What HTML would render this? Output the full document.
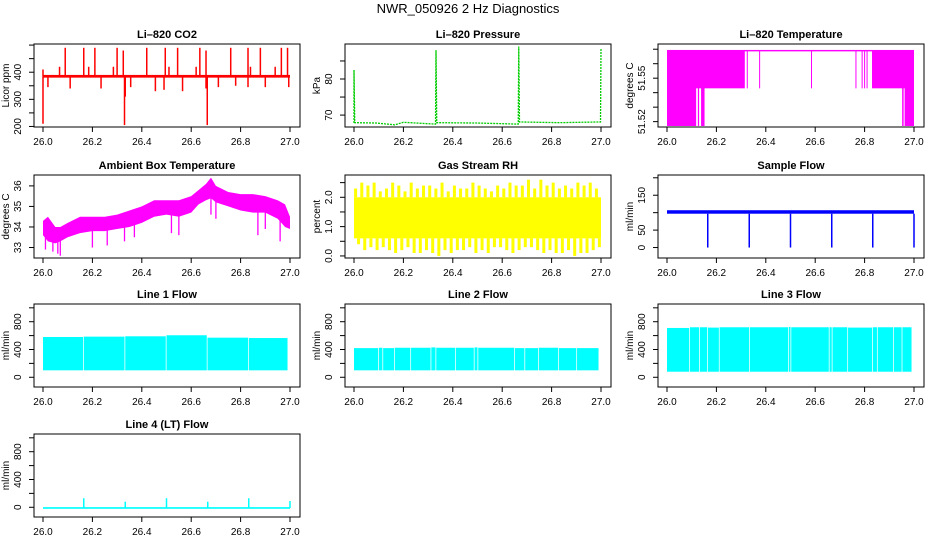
<!DOCTYPE html>
<html><head><meta charset="utf-8"><style>
html,body{margin:0;padding:0;background:#fff;}
svg{display:block;font-family:"Liberation Sans",sans-serif;}
.t{font-size:11px;font-weight:bold;text-anchor:middle;}
.tk{font-size:10px;}
</style></head><body>
<svg id="c" width="936" height="540" xmlns="http://www.w3.org/2000/svg">
<text x="468" y="13" style="font-size:13px;text-anchor:middle">NWR_050926  2 Hz Diagnostics</text>
</svg>
<script>
// ---- data ----
const xTicks=[26.0,26.2,26.4,26.6,26.8,27.0];
const xTickLabels=["26.0","26.2","26.4","26.6","26.8","27.0"];
// CO2
const co2Base=385;
const co2SpikeX=[26.0,26.0,26.02,26.067,26.09,26.11,26.165,26.185,26.21,26.235,26.285,26.30,26.325,26.33,26.333,26.355,26.42,26.455,26.49,26.495,26.51,26.545,26.565,26.62,26.635,26.66,26.66,26.665,26.71,26.76,26.78,26.83,26.84,26.83,26.88,26.9,26.94,26.965,26.99,26.995];
const co2SpikeY=[210,410,345,420,490,340,490,420,490,340,420,490,480,205,310,345,490,330,335,490,420,490,330,420,490,480,340,205,345,490,350,490,420,345,490,345,420,490,490,345];
// Pressure
const pX=[26.0,26.0,26.003,26.09,26.165,26.2,26.33,26.332,26.335,26.5,26.665,26.667,26.67,26.83,26.998,27.0];
const pY=[67.8,82.5,67.9,67.8,67.3,68.0,67.5,88.0,67.9,67.8,67.5,89.0,68.1,67.9,68.1,88.4];
// Li-820 temperature
const tHigh=51.569, tMid=51.543, tLow=51.517;
const tMidStart=[26.0,26.83], tMidEnd=[26.315,27.0];
const tLowStart=[26.0,26.125,26.138,26.952,26.962], tLowEnd=[26.118,26.13,26.152,26.958,27.0];
const tMidTicks=[26.325,26.375,26.585,26.765,26.79,26.8,26.81];
// Ambient box temperature
const ambX=[26.0,26.02,26.05,26.07,26.1,26.15,26.2,26.25,26.3,26.35,26.4,26.45,26.5,26.55,26.6,26.63,26.66,26.68,26.7,26.75,26.8,26.85,26.9,26.95,26.98,27.0];
const ambHi=[34.3,34.5,34.0,34.0,34.2,34.5,34.5,34.5,34.6,34.8,35.0,35.3,35.3,35.3,35.5,35.8,36.1,36.4,36.0,35.7,35.6,35.6,35.5,35.3,35.1,34.5];
const ambLo=[33.6,33.3,33.2,33.3,33.5,33.7,33.8,33.8,33.9,34.0,34.2,34.5,34.6,34.5,34.7,35.1,35.3,35.4,35.2,35.0,34.8,34.7,34.7,34.4,34.0,33.9];
const ambDipX=[26.01,26.04,26.06,26.07,26.2,26.26,26.33,26.37,26.52,26.55,26.68,26.7,26.87,26.96,26.9];
const ambDipY=[32.9,32.8,32.7,32.6,33.0,33.1,33.3,33.5,33.7,33.6,34.6,34.4,33.6,33.3,33.9];
// Gas stream RH
const rhHi=[2.3,2.5,2.4,2.5,2.2,2.3,2.5,2.4,2.2,2.5,2.3,2.4,2.4,2.3,2.5,2.2,2.4,2.3,2.3,2.5,2.4,2.3,2.2,2.4,2.3,2.5,2.4,2.4,2.6,2.3,2.6,2.4,2.5,2.3,2.4,2.3,2.5,2.4,2.5,2.3];
const rhLo=[0.4,0.2,0.3,0.2,0.3,0.2,0.1,0.2,0.3,0.1,0.1,0.2,0.1,0.0,0.2,0.1,0.2,0.2,0.3,0.1,0.2,0.1,0.3,0.3,0.2,0.1,0.2,0.3,0.3,0.2,0.1,0.2,0.1,0.1,0.2,0.0,0.1,0.1,0.2,0.3];
const rhCoreLo=0.6, rhCoreHi=2.0;
// Sample flow
const sfBaseLo=97, sfBaseHi=107;
const sfDipX=[26.165,26.333,26.5,26.667,26.833,27.0];
const sfDipY=[0,0,0,0,0,0];
// Line flows
const l1Gaps=[26.162,26.33,26.497,26.663,26.83];
const l1Top=[580,585,590,605,570,565];
const l1Bottom=100;
const l2Gaps=[26.098,26.115,26.162,26.228,26.31,26.33,26.41,26.485,26.5,26.648,26.69,26.745,26.826,26.9];
const l2Top=[420,425,420,425,425,430,425,425,430,425,420,420,425,420,420];
const l2Bottom=100;
const l3Gaps=[26.09,26.13,26.163,26.21,26.333,26.49,26.5,26.655,26.667,26.73,26.83,26.85,26.915,26.95];
const l3Top=[710,720,720,715,720,720,725,720,720,720,715,720,720,720,720];
const l3Bottom=80;
const l4Base=-10;
const l4SpikeX=[26.165,26.333,26.5,26.667,26.833,27.0];
const l4SpikeY=[130,80,130,80,130,90];

// ---- layout ----
const NS="http://www.w3.org/2000/svg";
const svg=document.getElementById('c');
const colL=[34,345,658], rowT=[44,175,304,434], W=266, H=83;
function mk(tag,attrs,parent){const e=document.createElementNS(NS,tag);for(const k in attrs)e.setAttribute(k,attrs[k]);(parent||svg).appendChild(e);return e;}
function panel(col,row,title,ylab,ymin,ymax,yticks,ylabels,name){
  const L=colL[col],T=rowT[row];
  const g=mk('g',{});
  
  
  const xs=v=>L+9+(v-26)*247, ys=v=>T+H-(v-ymin)/(ymax-ymin)*H;
  const plot=mk('g',{},g);
  
  
  const box=mk('rect',{x:L,y:T,width:W,height:H,fill:'none',stroke:'#000','stroke-width':1},g);
  
  
  const tt=mk('text',{x:L+W/2,y:T-6,class:'t'},g);tt.textContent=title;
  
  
  xTicks.forEach((v,i)=>{
    mk('line',{x1:xs(v),x2:xs(v),y1:T+H,y2:T+H+5,stroke:'#000'},g);
    const t=mk('text',{x:xs(v),y:T+H+18,class:'tk','text-anchor':'middle'},g);t.textContent=xTickLabels[i];
    
    
  });
  yticks.forEach((v,i)=>{
    mk('line',{x1:L,x2:L-5,y1:ys(v),y2:ys(v),stroke:'#000'},g);
    if(ylabels[i]){const t=mk('text',{x:L-13,y:ys(v),class:'tk','text-anchor':'middle',transform:`rotate(-90 ${L-13} ${ys(v)})`},g);t.textContent=ylabels[i];
    
    }
  });
  const yl=mk('text',{x:L-25,y:T+H/2,class:'tk','text-anchor':'middle',transform:`rotate(-90 ${L-25} ${T+H/2})`},g);yl.textContent=ylab;
  
  
  return {xs,ys,g:plot};
}
function vline(p,x,y1,y2,c,w){return mk('line',{x1:p.xs(x),x2:p.xs(x),y1:p.ys(y1),y2:p.ys(y2),stroke:c,'stroke-width':w||1},p.g);}
function band(p,x1,x2,lo,hi,c){return mk('rect',{x:p.xs(x1),y:p.ys(hi),width:Math.max(1,p.xs(x2)-p.xs(x1)),height:Math.max(1,p.ys(lo)-p.ys(hi)),fill:c},p.g);}
function interp(xa,ya,x){for(let i=0;i<xa.length-1;i++){if(x<=xa[i+1]){const t=(x-xa[i])/(xa[i+1]-xa[i]);return ya[i]+t*(ya[i+1]-ya[i]);}}return ya[ya.length-1];}
function segs(p,gaps,tops,bottom,c){
  const b=[26.0,...gaps,26.99];
  for(let i=0;i<b.length-1;i++){
    const r=band(p,b[i]+(i?0.003:0),b[i+1],bottom,tops[i],c);
    
    
  }
}
const flowTicks=[0,200,400,600,800,1000], flowLabels=["0","","400","","800",""];

// CO2
let p=panel(0,0,'Li\u2013820 CO2','Licor ppm',198,504,[200,250,300,350,400,450,500],["200","","300","","400","",""],'co2');
band(p,26.0,27.0,co2Base-5,co2Base+5,'#ff0000');
co2SpikeX.forEach((x,i)=>{const l=vline(p,x,co2Base,co2SpikeY[i],'#ff0000',1.5);

});

// Pressure
p=panel(1,0,'Li\u2013820 Pressure','kPa',66.7,89.7,[70,75,80,85],["70","","80",""],'pressure');
const pl=mk('polyline',{points:pX.map((x,i)=>p.xs(x)+','+p.ys(pY[i])).join(' '),fill:'none',stroke:'#00cc00','stroke-width':1.3,'stroke-dasharray':'2,1'},p.g);



// Li-820 Temp
p=panel(2,0,'Li\u2013820 Temperature','degrees C',51.5163,51.5736,[51.52,51.53,51.54,51.55,51.56,51.57],["51.52","","","51.55","",""],'li820-temp');
tMidStart.forEach((s,i)=>{const r=band(p,s,tMidEnd[i],tMid,tHigh,'#ff00ff');});
tLowStart.forEach((s,i)=>{const r=band(p,s,tLowEnd[i],tLow,tHigh,'#ff00ff');});
band(p,26.0,27.0,tHigh-0.0005,tHigh+0.0005,'#ff00ff');
tMidTicks.forEach(x=>{const l=vline(p,x,tHigh,tMid,'#ff00ff',1);});

// Ambient
p=panel(0,1,'Ambient Box Temperature','degrees C',32.49,36.53,[33,34,35,36],["33","34","35","36"],'ambient-temp');
const ap=ambX.map((x,i)=>p.xs(x)+','+p.ys(ambHi[i])).concat(ambX.slice().reverse().map((x,i)=>p.xs(x)+','+p.ys(ambLo[ambX.length-1-i])));
const apg=mk('polygon',{points:ap.join(' '),fill:'#ff00ff'},p.g);


ambDipX.forEach((x,i)=>{const l=vline(p,x,interp(ambX,ambLo,x)+0.1,ambDipY[i],'#ff00ff',1.3);});

// RH
p=panel(1,1,'Gas Stream RH','percent',-0.07,2.76,[0,0.5,1,1.5,2,2.5],["0.0","","1.0","","2.0",""],'rh');
band(p,26.0,27.0,rhCoreLo,rhCoreHi,'#ffff00');
rhHi.forEach((v,i)=>{const x=26+(i+0.5)/rhHi.length;
  const a=vline(p,x-0.006,rhCoreHi,v,'#ffff00',3);
  const b=vline(p,x+0.006,rhCoreLo,rhLo[i],'#ffff00',3);});

// Sample flow
p=panel(2,1,'Sample Flow','ml/min',-30,208,[0,50,100,150,200],["0","50","","150",""],'sample-flow');
band(p,26.0,27.0,sfBaseLo,sfBaseHi,'#0000ff');
sfDipX.forEach((x,i)=>{const l=vline(p,x,sfBaseLo,sfDipY[i],'#0000ff',1.5);});

// Line flows
p=panel(0,2,'Line 1 Flow','ml/min',-140,1055,flowTicks,flowLabels,'line1-flow');
segs(p,l1Gaps,l1Top,l1Bottom,'#00ffff');
p=panel(1,2,'Line 2 Flow','ml/min',-140,1055,flowTicks,flowLabels,'line2-flow');
segs(p,l2Gaps,l2Top,l2Bottom,'#00ffff');
p=panel(2,2,'Line 3 Flow','ml/min',-140,1055,flowTicks,flowLabels,'line3-flow');
segs(p,l3Gaps,l3Top,l3Bottom,'#00ffff');
p=panel(0,3,'Line 4 (LT) Flow','ml/min',-140,1055,flowTicks,flowLabels,'line4-flow');
band(p,26.0,27.0,l4Base-12,l4Base+12,'#00ffff');
l4SpikeX.forEach((x,i)=>{const l=vline(p,x,l4Base,l4SpikeY[i],'#00ffff',1.5);});
</script>
</body></html>
